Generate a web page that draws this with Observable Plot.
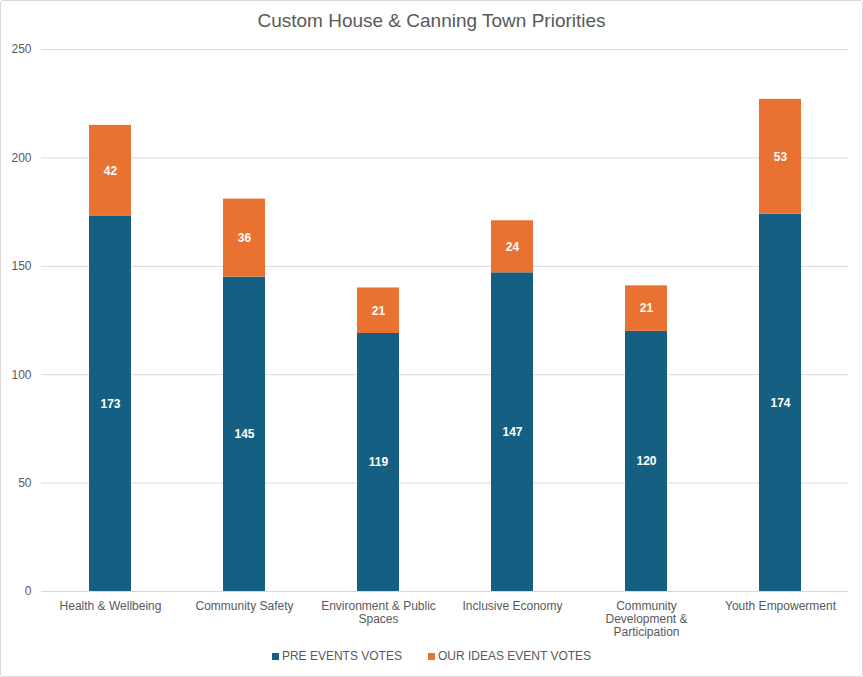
<!DOCTYPE html>
<html>
<head>
<meta charset="utf-8">
<script src="https://cdn.jsdelivr.net/npm/d3@7"></script>
<script src="https://cdn.jsdelivr.net/npm/@observablehq/plot@0.6"></script>
<style>
  body { margin: 0; background: #fff; font-family: "Liberation Sans", Arial, sans-serif; }
  #frame { position: relative; width: 861px; height: 675px; border: 1px solid #d9d9d9; border-radius: 3px; background: #fff; overflow: hidden; }
  #title { position: absolute; top: 9px; left: 0; width: 100%; text-align: center; font-size: 19px; color: #595959; }
  #chart { position: absolute; top: 0; left: 0; }
  #legend { position: absolute; top: 648px; left: 0; width: 100%; display: flex; justify-content: center; gap: 26px; font-size: 12px; color: #595959; }
  .item { display: flex; align-items: center; gap: 3px; }
  .sw { width: 7px; height: 7px; display: inline-block; }
</style>
</head>
<body>
<div id="frame">
  <div id="title">Custom House &amp; Canning Town Priorities</div>
  <div id="chart"></div>
  <div id="legend"></div>
</div>
<script>
const categories = ["Health & Wellbeing", "Community Safety", "Environment & Public Spaces", "Inclusive Economy", "Community Development & Participation", "Youth Empowerment"];
const tickLabels = ["Health & Wellbeing", "Community Safety", "Environment & Public\nSpaces", "Inclusive Economy", "Community\nDevelopment &\nParticipation", "Youth Empowerment"];
const preEventsVotes = [173, 145, 119, 147, 120, 174];
const ourIdeasEventVotes = [42, 36, 21, 24, 21, 53];
const seriesNames = ["PRE EVENTS VOTES", "OUR IDEAS EVENT VOTES"];
const seriesColors = ["#156082", "#E97132"];
const yTicks = [0, 50, 100, 150, 200, 250];

const legend = document.getElementById("legend");
seriesNames.forEach((s, i) => {
  const it = document.createElement("div");
  it.className = "item";
  const sw = document.createElement("span");
  sw.className = "sw";
  sw.style.background = seriesColors[i];
  const t = document.createElement("span");
  t.textContent = s;
  it.appendChild(sw); it.appendChild(t);
  legend.appendChild(it);
});

const data = [];
categories.forEach((c, i) => {
  data.push({category: c, series: seriesNames[0], value: preEventsVotes[i]});
  data.push({category: c, series: seriesNames[1], value: ourIdeasEventVotes[i]});
});
const labelOf = new Map(categories.map((c, i) => [c, tickLabels[i]]));

const chart = Plot.plot({
  width: 861,
  height: 640,
  marginTop: 48,
  marginBottom: 50,
  marginLeft: 40,
  marginRight: 14,
  style: {fontFamily: "'Liberation Sans', Arial, sans-serif", fontSize: "12px", color: "#595959", background: "transparent"},
  x: {domain: categories, label: null, paddingInner: 0.69, paddingOuter: 0.345},
  y: {domain: [0, 250], label: null},
  color: {domain: seriesNames, range: seriesColors},
  marks: [
    Plot.ruleY(yTicks, {stroke: "#d9d9d9", strokeWidth: 1}),
    Plot.axisY({ticks: yTicks, tickSize: 0, tickPadding: 10, label: null, fill: "#595959"}),
    Plot.axisX({tickSize: 0, tickPadding: 9, label: null, lineHeight: 1.1, fill: "#595959", tickFormat: d => labelOf.get(d)}),
    Plot.barY(data, Plot.stackY({x: "category", y: "value", fill: "series", z: "series", order: seriesNames})),
    Plot.text(data, Plot.stackY({x: "category", y: "value", z: "series", order: seriesNames, text: d => String(d.value), fill: "white", fontWeight: "bold", fontSize: 12}))
  ]
});
document.getElementById("chart").appendChild(chart);
</script>
</body>
</html>
